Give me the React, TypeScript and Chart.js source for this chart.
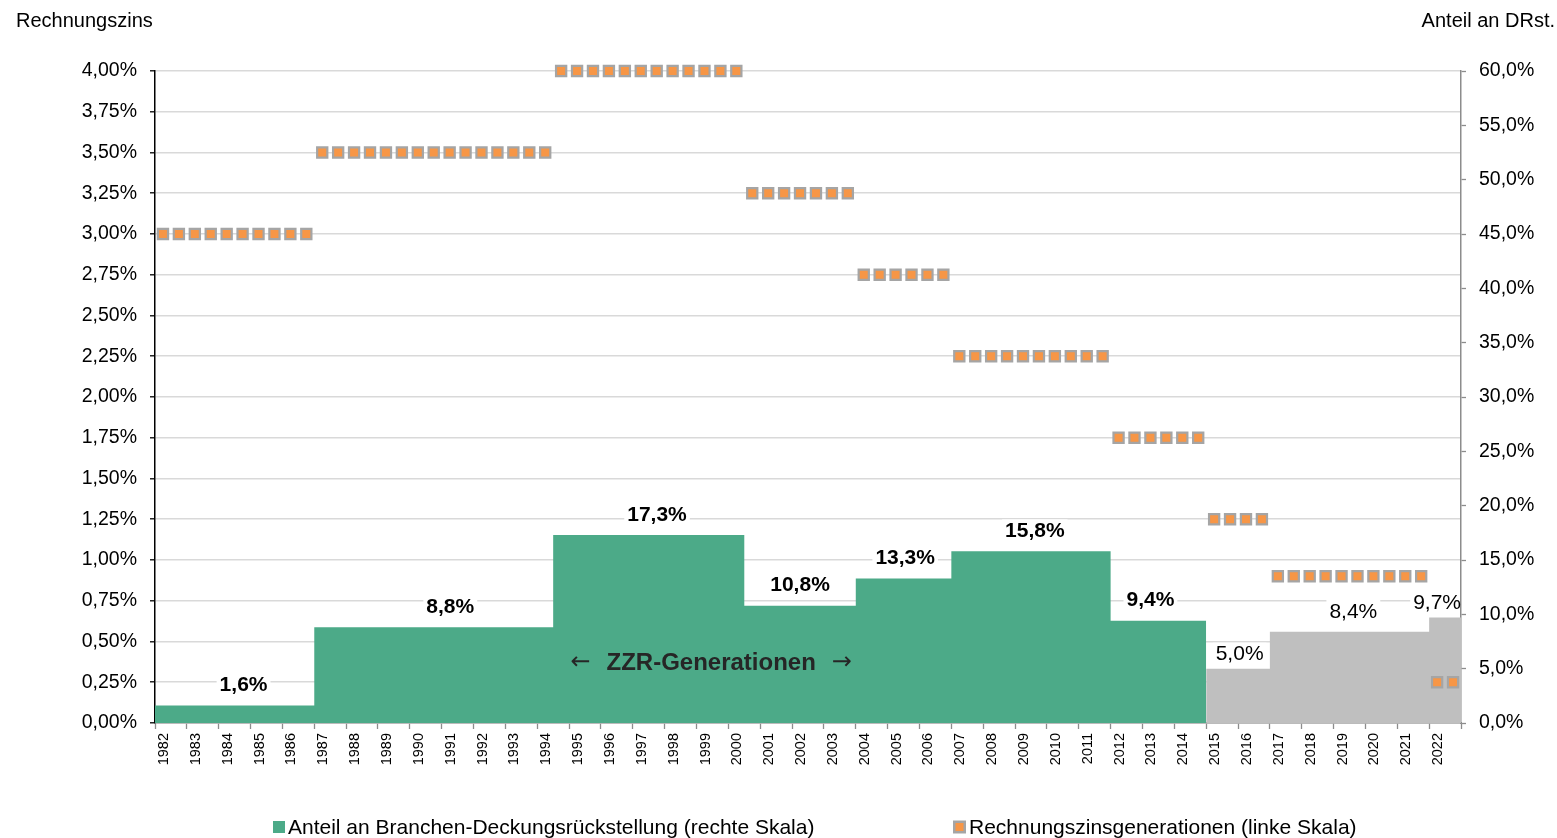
import React, { useEffect, useRef } from 'react';
import { Chart, registerables } from 'chart.js';

Chart.register(...registerables);

// ---------- data ----------
const yearLabels = [
  '1982', '1983', '1984', '1985', '1986', '1987', '1988', '1989', '1990', '1991',
  '1992', '1993', '1994', '1995', '1996', '1997', '1998', '1999', '2000', '2001',
  '2002', '2003', '2004', '2005', '2006', '2007', '2008', '2009', '2010', '2011',
  '2012', '2013', '2014', '2015', '2016', '2017', '2018', '2019', '2020', '2021', '2022',
];
const firstYear = 1982;
const lastYearEnd = 2023;

// share of industry reserve (right scale, %) per generation segment
const segmentStarts = [1982, 1987, 1994.5, 2000.5, 2004, 2007, 2012, 2015, 2017, 2022];
const shareValues = [1.6, 8.8, 17.3, 10.8, 13.3, 15.8, 9.4, 5.0, 8.4, 9.7];
const shareIsZZR = [true, true, true, true, true, true, true, false, false, false];

// interest-rate generations (left scale, %)
const rateValues = [3.0, 3.5, 4.0, 3.25, 2.75, 2.25, 1.75, 1.25, 0.9, 0.25];
const rateFirstMarker = [1982.25, 1987.25, 1994.75, 2000.75, 2004.25, 2007.25, 2012.25, 2015.25, 2017.25, 2022.25];
const rateMarkerCount = [10, 15, 12, 7, 6, 10, 6, 4, 10, 2];
const markerStep = 0.5; // one marker per half year

const leftTicks = [0, 0.25, 0.5, 0.75, 1, 1.25, 1.5, 1.75, 2, 2.25, 2.5, 2.75, 3, 3.25, 3.5, 3.75, 4];
const rightTicks = [0, 5, 10, 15, 20, 25, 30, 35, 40, 45, 50, 55, 60];

const leftTitle = 'Rechnungszins';
const rightTitle = 'Anteil an DRst.';
const annotationText = 'ZZR-Generationen';
const arrowLeft = '\u2190';
const arrowRight = '\u2192';
const legendShare = 'Anteil an Branchen-Deckungsrückstellung (rechte Skala)';
const legendRate = 'Rechnungszinsgenerationen (linke Skala)';

// label placement tweaks (in years / px)
const labelShift = [0.28, 0.52, 0.26, 0, 0.05, 0.12, -0.25, 0.05, 0.12, -0.25];
const labelLift = [21, 21, 21, 21, 21, 21, 22, 15, 21, 15];

// ---------- styles ----------
const FONT = '"Liberation Sans", Arial, sans-serif';
const ARROW_FONT = '"DejaVu Sans", sans-serif';
const GREEN = '#4CAA88';
const GREY = '#BFBFBF';
const ORANGE = '#F79646';
const MARKER_BORDER = '#A5A5A5';
const AXIS_GREY = '#8C8C8C';
const GRID = '#D9D9D9';

const fmtDe = (v: number, d: number) => v.toFixed(d).replace('.', ',') + '%';

function buildStepData(indices: number[]) {
  const pts: { x: number; y: number }[] = [];
  indices.forEach((i) => pts.push({ x: segmentStarts[i], y: shareValues[i] }));
  const last = indices[indices.length - 1];
  const end = last + 1 < segmentStarts.length ? segmentStarts[last + 1] : lastYearEnd;
  pts.push({ x: end, y: shareValues[last] });
  return pts;
}

function buildMarkers() {
  const pts: { x: number; y: number }[] = [];
  rateValues.forEach((r, g) => {
    for (let k = 0; k < rateMarkerCount[g]; k++) {
      pts.push({ x: rateFirstMarker[g] + k * markerStep, y: r });
    }
  });
  return pts;
}

const overlayPlugin = {
  id: 'overlay',
  afterDatasetsDraw(chart: any) {
    const ctx: CanvasRenderingContext2D = chart.ctx;
    const xs = chart.scales.x;
    const yr = chart.scales.yR;
    const area = chart.chartArea;
    ctx.save();
    // value labels
    shareValues.forEach((v, i) => {
      const s = segmentStarts[i];
      const e = i + 1 < segmentStarts.length ? segmentStarts[i + 1] : lastYearEnd;
      const cx = xs.getPixelForValue((s + e) / 2 + labelShift[i]);
      const cy = yr.getPixelForValue(v) - labelLift[i];
      const text = fmtDe(v, 1);
      ctx.font = (shareIsZZR[i] ? 'bold ' : '') + '21px ' + FONT;
      const w = ctx.measureText(text).width;
      const rl = cx - w / 2 - 3;
      const rr = Math.min(cx + w / 2 + 3, area.right - 1);
      ctx.fillStyle = '#ffffff';
      ctx.fillRect(rl, cy - 11, rr - rl, 22);
      ctx.fillStyle = '#000000';
      ctx.textAlign = 'center';
      ctx.textBaseline = 'middle';
      ctx.fillText(text, cx, cy + 1);
    });
    // annotation inside the ZZR area
    const ax = xs.getPixelForValue(1999.46);
    const ay = yr.getPixelForValue(5.5);
    ctx.fillStyle = '#262626';
    ctx.textAlign = 'center';
    ctx.textBaseline = 'middle';
    ctx.font = 'bold 24px ' + FONT;
    ctx.fillText(annotationText, ax, ay);
    const tw = ctx.measureText(annotationText).width;
    ctx.font = '24px ' + ARROW_FONT;
    ctx.fillText(arrowLeft, ax - tw / 2 - 26, ay);
    ctx.fillText(arrowRight, ax + tw / 2 + 26, ay);
    ctx.restore();
  },
  afterDraw(chart: any) {
    const ctx: CanvasRenderingContext2D = chart.ctx;
    ctx.save();
    ctx.fillStyle = '#000000';
    ctx.font = '20px ' + FONT;
    ctx.textBaseline = 'middle';
    ctx.textAlign = 'left';
    ctx.fillText(leftTitle, 16, 21);
    ctx.textAlign = 'right';
    ctx.fillText(rightTitle, 1555, 21);

    // legend
    const ly = 827;
    ctx.font = '21px ' + FONT;
    ctx.fillStyle = GREEN;
    ctx.fillRect(273, ly - 6, 12, 12);
    ctx.fillStyle = '#000000';
    ctx.textAlign = 'left';
    ctx.fillText(legendShare, 288, ly + 1);

    ctx.fillStyle = MARKER_BORDER;
    ctx.fillRect(953, ly - 6.5, 13, 13);
    ctx.fillStyle = ORANGE;
    ctx.fillRect(955.5, ly - 4, 8, 8);
    ctx.fillStyle = '#000000';
    ctx.fillText(legendRate, 969, ly + 1);
    ctx.restore();
  },
};

export default function App() {
  const canvasRef = useRef<HTMLCanvasElement>(null);

  useEffect(() => {
    const canvas = canvasRef.current;
    if (!canvas) return;
    const zzrIdx = shareValues.map((_, i) => i).filter((i) => shareIsZZR[i]);
    const restIdx = shareValues.map((_, i) => i).filter((i) => !shareIsZZR[i]);

    const chart = new Chart(canvas, {
      type: 'line',
      data: {
        datasets: [
          {
            label: legendRate,
            data: buildMarkers(),
            xAxisID: 'x',
            yAxisID: 'yL',
            showLine: false,
            clip: false,
            pointStyle: 'rect',
            pointRadius: 7.2,
            pointBorderWidth: 2.2,
            pointBackgroundColor: ORANGE,
            pointBorderColor: MARKER_BORDER,
            order: 0,
          } as any,
          {
            label: legendShare,
            data: buildStepData(zzrIdx),
            xAxisID: 'x',
            yAxisID: 'yR',
            stepped: 'before',
            fill: 'origin',
            backgroundColor: GREEN,
            borderColor: 'rgba(0,0,0,0)',
            borderWidth: 0,
            pointRadius: 0,
            order: 1,
          } as any,
          {
            label: 'Prognose',
            data: buildStepData(restIdx),
            xAxisID: 'x',
            yAxisID: 'yR',
            stepped: 'before',
            fill: 'origin',
            backgroundColor: GREY,
            borderColor: 'rgba(0,0,0,0)',
            borderWidth: 0,
            pointRadius: 0,
            order: 1,
          } as any,
        ],
      },
      options: {
        responsive: false,
        devicePixelRatio: 1,
        animation: false,
        events: [],
        layout: { padding: { top: 71, bottom: 55, left: 0, right: 0 } },
        plugins: {
          legend: { display: false },
          tooltip: { enabled: false },
          title: { display: false },
        },
        scales: {
          x: {
            type: 'linear',
            position: 'bottom',
            min: firstYear,
            max: lastYearEnd,
            afterBuildTicks: (scale: any) => {
              const t: { value: number }[] = [];
              for (let i = 0; i <= yearLabels.length; i++) t.push({ value: firstYear + i });
              scale.ticks = t;
            },
            afterFit: (scale: any) => {
              scale.height = 60;
            },
            ticks: {
              autoSkip: false,
              maxRotation: 90,
              minRotation: 90,
              labelOffset: 9,
              padding: 4,
              color: '#000000',
              font: { family: FONT, size: 14.5 },
              callback: (v: any) => {
                const i = Math.round(Number(v) - firstYear);
                return i >= 0 && i < yearLabels.length ? yearLabels[i] : '';
              },
            },
            grid: {
              drawOnChartArea: false,
              drawTicks: true,
              tickLength: 6,
              tickColor: AXIS_GREY,
              tickWidth: 1.3,
            },
            border: { display: true, color: AXIS_GREY, width: 1.5 },
          },
          yL: {
            type: 'linear',
            position: 'left',
            min: 0,
            max: 4,
            afterBuildTicks: (scale: any) => {
              scale.ticks = leftTicks.map((v) => ({ value: v }));
            },
            afterFit: (scale: any) => {
              scale.width = 155;
            },
            ticks: {
              padding: 13,
              color: '#000000',
              font: { family: FONT, size: 19.5 },
              callback: (v: any) => fmtDe(Number(v), 2),
            },
            grid: {
              color: GRID,
              lineWidth: 1.6,
              drawTicks: true,
              tickLength: 5,
              tickColor: '#000000',
              tickWidth: 1.3,
            },
            border: { display: true, color: '#000000', width: 1.5 },
          },
          yR: {
            type: 'linear',
            position: 'right',
            min: 0,
            max: 60,
            afterBuildTicks: (scale: any) => {
              scale.ticks = rightTicks.map((v) => ({ value: v }));
            },
            afterFit: (scale: any) => {
              scale.width = 96;
            },
            ticks: {
              padding: 13,
              color: '#000000',
              font: { family: FONT, size: 19.5 },
              callback: (v: any) => fmtDe(Number(v), 1),
            },
            grid: {
              drawOnChartArea: false,
              drawTicks: true,
              tickLength: 5,
              tickColor: AXIS_GREY,
              tickWidth: 1.3,
            },
            border: { display: true, color: AXIS_GREY, width: 1.5 },
          },
        },
      } as any,
      plugins: [overlayPlugin],
    });
    return () => chart.destroy();
  }, []);

  return (
    <div style={{ position: 'fixed', left: 0, top: 0, width: 1557, height: 838, background: '#ffffff' }}>
      <canvas ref={canvasRef} width={1557} height={838} style={{ width: 1557, height: 838, display: 'block' }} />
    </div>
  );
}
